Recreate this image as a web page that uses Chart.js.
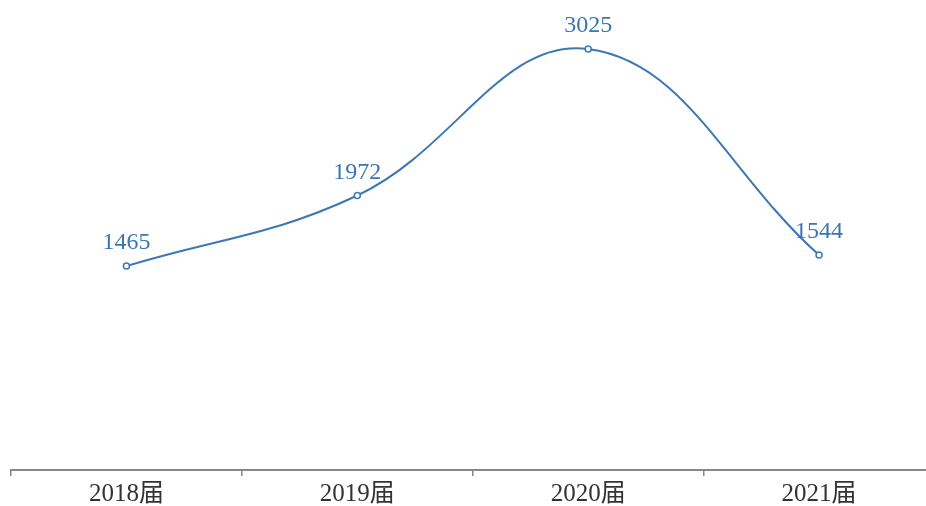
<!DOCTYPE html>
<html lang="zh">
<head>
    <meta charset="UTF-8">
    <title>届别人数</title>
    <script src="https://cdn.jsdelivr.net/npm/chart.js@4/dist/chart.umd.min.js"></script>
    <style>
        html, body { margin: 0; padding: 0; background: #fff; overflow: hidden; }
        #wrap { width: 940px; height: 506px; }
    </style>
</head>
<body>
    <div id="wrap"><canvas id="myChart"></canvas></div>

    <script>
        var categories = ['2018届', '2019届', '2020届', '2021届'];
        var counts = [1465, 1972, 3025, 1544];

        var lineColor = '#3d78b4';

        // draw the number above each point
        var valueLabels = {
            id: 'valueLabels',
            afterDatasetsDraw: function(chart) {
                var ctx = chart.ctx;
                var meta = chart.getDatasetMeta(0);
                ctx.save();
                ctx.font = "24px 'Liberation Serif', 'Times New Roman', serif";
                ctx.fillStyle = '#3a76b3';
                ctx.textAlign = 'center';
                ctx.textBaseline = 'alphabetic';
                meta.data.forEach(function(pt, i) {
                    ctx.fillText(String(counts[i]), pt.x, pt.y - 17);
                });
                ctx.restore();
            }
        };

        var ctx = document.getElementById('myChart').getContext('2d');
        var myChart = new Chart(ctx, {
            type: 'line',
            data: {
                labels: categories,
                datasets: [{
                    data: counts,
                    borderColor: lineColor,
                    borderWidth: 2,
                    tension: 0.4,
                    pointRadius: 3,
                    pointBackgroundColor: '#fff',
                    pointBorderColor: lineColor,
                    pointBorderWidth: 1.5,
                    fill: false
                }]
            },
            options: {
                responsive: true,
                maintainAspectRatio: false,
                animation: false,
                layout: { padding: { left: 11, right: 0, top: 0, bottom: -7 } },
                plugins: {
                    legend: { display: false },
                    tooltip: { enabled: false }
                },
                scales: {
                    x: {
                        offset: true,
                        grid: {
                            offset: true,
                            drawOnChartArea: false,
                            tickLength: 6,
                            color: '#888',
                            lineWidth: 1.5
                        },
                        border: { color: '#888', width: 2 },
                        ticks: {
                            color: '#333',
                            padding: 6,
                            maxRotation: 0,
                            font: { family: "'Liberation Serif', 'Noto Sans CJK SC', serif", size: 25, lineHeight: 1.0 }
                        }
                    },
                    y: {
                        display: false,
                        min: 0,
                        max: 3337
                    }
                }
            },
            plugins: [valueLabels]
        });
    </script>
</body>
</html>
